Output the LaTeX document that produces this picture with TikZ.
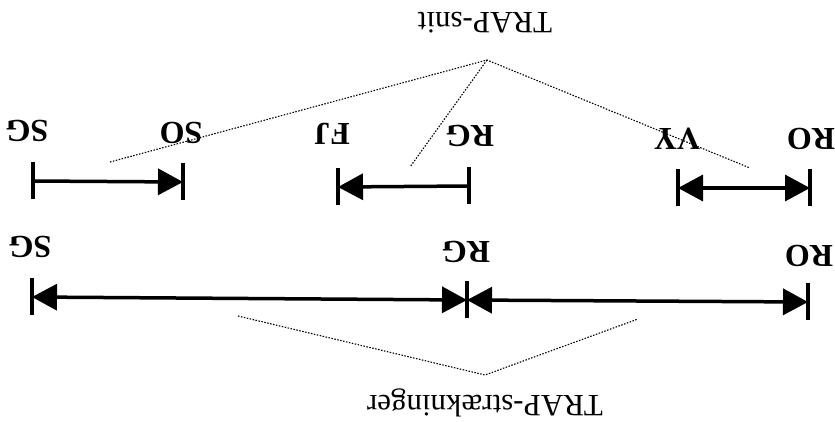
\documentclass[tikz,border=0pt]{standalone}
\usepackage{fontspec}
\setmainfont{Liberation Serif}
\usetikzlibrary{arrows.meta}
\usetikzlibrary{calc}

\begin{document}
\begin{tikzpicture}[x=1pt, y=-1pt,
    >={Triangle[length=25pt,width=26pt]},
    station/.style={rotate=180, inner sep=0pt, font=\fontsize{32}{32}\selectfont\bfseries},
    caption/.style={rotate=180, inner sep=0pt, font=\fontsize{31}{31}\selectfont},
    bar/.style={line width=3.5pt},
    tick/.style={line width=3.2pt},
    hint/.style={line width=1.1pt, dash pattern=on 1.5pt off 1.5pt}]
	\useasboundingbox (0,0) rectangle (835,421);

	% tick points, upper row (snit) and lower row (straekninger)
	\coordinate (SG1) at (33,181);
	\coordinate (SO1) at (183,182);
	\coordinate (FJ1) at (338,187);
	\coordinate (RG1) at (469,186);
	\coordinate (VY1) at (678,188);
	\coordinate (RO1) at (810,188);
	\coordinate (SG2) at (32,297);
	\coordinate (RG2) at (467,300);
	\coordinate (RO2) at (808,302);

	\foreach \p in {SG1,SO1,FJ1,RG1,VY1,RO1,SG2,RG2,RO2}
		\draw[tick] (\p) ++(0,-19) -- ++(0,37);

	\draw[bar,->] (SG1) -- (SO1);
	\draw[bar,<-] (FJ1) -- (RG1);
	\draw[bar,<->] (VY1) -- (RO1);
	\draw[bar,<->] (SG2) -- (RG2);
	\draw[bar,<->] (RG2) -- (RO2);

	% station names
	\node[station] (nSG1) at (27,131) {SG};
	\node[station] (nSO1) at (181,133) {SO};
	\node[station] (nFJ1) at (332,134) {FJ};
	\node[station] (nRG1) at (470,136) {RG};
	\node[station] (nVY1) at (677,139) {VY};
	\node[station] (nRO1) at (811,139) {RO};
	\node[station] (nSG2) at (30,247) {SG};
	\node[station] (nRG2) at (466,252) {RG};
	\node[station] (nRO2) at (809,256) {RO};

	\node[caption] (snit) at (485,23) {TRAP-snit};
	\node[caption] (straek) at (485,403) {TRAP-strækninger};

	% dotted pointers
	\coordinate (snitTop) at (487,60);
	\coordinate (snitA) at (110,162);
	\coordinate (snitB) at (410,167);
	\coordinate (snitC) at (750,168);
	\draw[hint] (snitA) -- (snitTop) -- (snitC);
	\draw[hint] (snitTop) -- (snitB);

	\coordinate (straekBot) at (485,375);
	\coordinate (straekA) at (238,316);
	\coordinate (straekB) at (638,319);
	\draw[hint] (straekA) -- (straekBot) -- (straekB);
\end{tikzpicture}
\end{document}
